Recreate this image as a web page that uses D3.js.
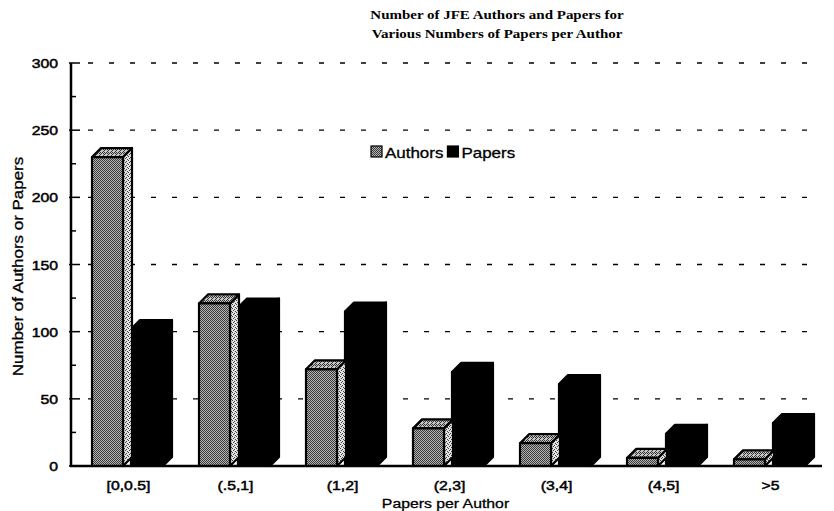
<!DOCTYPE html>
<html>
<head>
<meta charset="utf-8">
<script src="https://cdn.jsdelivr.net/npm/d3@7"></script>
<style>
  html, body { margin: 0; padding: 0; background: #fff; }
  svg { display: block; }
</style>
</head>
<body>
<svg id="chart" width="834" height="511"></svg>
<script>
// ---- data ----
const categories = ["[0,0.5]", "(.5,1]", "(1,2]", "(2,3]", "(3,4]", "(4,5]", ">5"];
const authors = [230, 121, 72, 28, 17, 6, 5];
const papers = [102, 118, 115, 70, 61, 24, 32];
const seriesNames = ["Authors", "Papers"];
const yTicks = [0, 50, 100, 150, 200, 250, 300];
const titleLines = ["Number of JFE Authors and Papers for", "Various Numbers of Papers per Author"];
const xTitle = "Papers per Author";
const yTitle = "Number of Authors or Papers";

// ---- layout ----
const SX = 1.17;               // horizontal stretch of the printed lettering
const plotL = 71, plotR = 820, plotT = 63, plotB = 466;
const depthX = 9, depthY = 9;  // 3-D extrusion of each column

const svg = d3.select("#chart");

const x = d3.scaleBand().domain(categories).range([plotL, plotR]).padding(0);
const y = d3.scaleLinear().domain([0, 300]).range([plotB, plotT]);

// stippled fills for the "Authors" columns
const defs = svg.append("defs");
function dotPattern(id, base, dot, cells, size) {
  const p = defs.append("pattern").attr("id", id)
    .attr("patternUnits", "userSpaceOnUse").attr("width", size).attr("height", size);
  p.append("rect").attr("width", size).attr("height", size).attr("fill", base);
  cells.forEach(([cx, cy]) => p.append("rect").attr("x", cx).attr("y", cy)
    .attr("width", 1).attr("height", 1).attr("fill", dot));
}
dotPattern("stFront", "#b4b4b4", "#3a3a3a", [[0, 0], [2, 0], [1, 1], [3, 1], [0, 2], [2, 2], [1, 3], [3, 3]], 4);
dotPattern("stSide", "#e2e2e2", "#444", [[0, 0], [2, 1], [1, 2], [3, 3]], 4);
dotPattern("stTop", "#c4c4c4", "#333", [[0, 0], [2, 0], [1, 1], [3, 1], [0, 2], [3, 3]], 4);

function stretchedText(g, px, py, str, o) {
  return g.append("text")
    .attr("transform", `translate(${px},${py}) scale(${SX},1)`)
    .attr("text-anchor", o.anchor || "middle")
    .attr("font-family", o.family || "'Liberation Sans', Arial, sans-serif")
    .attr("font-size", o.size || 13)
    .attr("font-weight", o.weight || "normal")
    .attr("fill", "#000")
    .attr("stroke", "#000")
    .attr("stroke-width", o.stroke || 0)
    .text(str);
}

// ---- gridlines ----
svg.append("g").selectAll("line")
  .data(yTicks.filter(t => t > 0))
  .join("line")
  .attr("x1", plotL + 17).attr("x2", plotR + 2)
  .attr("y1", d => y(d)).attr("y2", d => y(d))
  .attr("stroke", "#000").attr("stroke-width", 1.3)
  .attr("stroke-dasharray", "5,16");

// ---- columns ----
const barDefs = [
  { name: "Papers", values: papers, off: 60, w: 32, front: "#000", side: "#000", topF: "#000" },
  { name: "Authors", values: authors, off: 21, w: 31, front: "url(#stFront)", side: "url(#stSide)", topF: "url(#stTop)" }
];
const bars = svg.append("g");
barDefs.forEach(s => {
  categories.forEach((c, i) => {
    const v = s.values[i];
    const x0 = x(c) + s.off, x1 = x0 + s.w;
    const y0 = y(0), y1 = y(v);
    const g = bars.append("g").attr("stroke", "#000").attr("stroke-width", 2.2)
      .attr("stroke-linejoin", "round");
    // side face
    g.append("path")
      .attr("d", `M${x1},${y0} L${x1},${y1} L${x1 + depthX},${y1 - depthY} L${x1 + depthX},${y0 - depthY} Z`)
      .attr("fill", s.side);
    // top face
    g.append("path")
      .attr("d", `M${x0},${y1} L${x0 + depthX},${y1 - depthY} L${x1 + depthX},${y1 - depthY} L${x1},${y1} Z`)
      .attr("fill", s.topF);
    // front face
    g.append("rect")
      .attr("x", x0).attr("y", y1).attr("width", s.w).attr("height", y0 - y1)
      .attr("fill", s.front);
  });
});

// ---- axes ----
const axes = svg.append("g").attr("stroke", "#000");
axes.append("line").attr("x1", plotL).attr("x2", plotL).attr("y1", plotT).attr("y2", plotB + 1)
  .attr("stroke-width", 2.5);
axes.append("line").attr("x1", plotL - 1).attr("x2", plotR + 2).attr("y1", plotB).attr("y2", plotB)
  .attr("stroke-width", 2.5);
// major and minor ticks
const minor = d3.range(25, 300, 50);
axes.selectAll("line.maj").data(yTicks).join("line").attr("class", "maj")
  .attr("x1", plotL - 2).attr("x2", plotL + 9).attr("y1", d => y(d)).attr("y2", d => y(d))
  .attr("stroke-width", 1.5);
axes.selectAll("line.min").data(minor).join("line").attr("class", "min")
  .attr("x1", plotL).attr("x2", plotL + 5).attr("y1", d => y(d)).attr("y2", d => y(d))
  .attr("stroke-width", 1.5);

const labels = svg.append("g");
yTicks.forEach(t => stretchedText(labels, 58, y(t) + 5, String(t), { anchor: "end", size: 13.5, stroke: 0.5 }));
categories.forEach(c => stretchedText(labels, x(c) + x.bandwidth() / 2 + 4, 490, c, { size: 13.5, stroke: 0.5 }));
stretchedText(labels, (plotL + plotR) / 2, 508, xTitle, { size: 13.5, stroke: 0.3 });
labels.append("text")
  .attr("transform", `translate(23,${(plotT + plotB) / 2 + 2}) rotate(-90) scale(${SX},1)`)
  .attr("text-anchor", "middle")
  .attr("font-family", "'Liberation Sans', Arial, sans-serif")
  .attr("font-size", 14.5)
  .attr("stroke", "#000").attr("stroke-width", 0.3)
  .text(yTitle);

// ---- title ----
stretchedText(labels, 497, 19, titleLines[0], { family: "'Liberation Serif', 'Times New Roman', serif", size: 12.8, weight: "bold" });
stretchedText(labels, 497, 38, titleLines[1], { family: "'Liberation Serif', 'Times New Roman', serif", size: 12.8, weight: "bold" });

// ---- legend ----
const lg = svg.append("g");
const legendFills = ["url(#stFront)", "#000"];
let lx = 371;
seriesNames.forEach((n, i) => {
  lg.append("rect").attr("x", lx).attr("y", 146).attr("width", 11).attr("height", 11)
    .attr("fill", legendFills[i]).attr("stroke", "#000").attr("stroke-width", 1.2);
  const t = stretchedText(lg, lx + 14, 157.5, n, { anchor: "start", size: 14.5, stroke: 0.3 });
  lx += 14 + t.node().getComputedTextLength() * SX + 4;
});
</script>
</body>
</html>
